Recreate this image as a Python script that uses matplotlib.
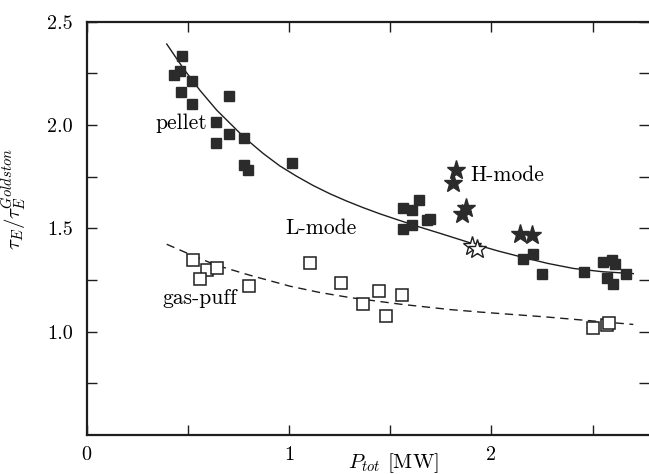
import matplotlib
matplotlib.use('Agg')
import matplotlib.pyplot as plt

plt.rcParams['font.family'] = ['cmr10', 'DejaVu Serif']
plt.rcParams['mathtext.fontset'] = 'cm'
plt.rcParams['axes.formatter.use_mathtext'] = True

# ---- data ----
pellet_x = [0.473, 0.461, 0.432, 0.522, 0.466, 0.522, 0.704, 0.638, 0.704, 0.638,
            0.779, 0.779, 0.799, 1.013,
            1.644, 1.565, 1.609, 1.565, 1.606, 1.680, 1.697,
            2.158, 2.207, 2.251, 2.459, 2.553, 2.594, 2.611, 2.570, 2.602, 2.664]
pellet_y = [2.335, 2.263, 2.242, 2.211, 2.161, 2.101, 2.141, 2.013, 1.959, 1.911,
            1.935, 1.806, 1.782, 1.814,
            1.636, 1.599, 1.588, 1.496, 1.515, 1.539, 1.543,
            1.350, 1.378, 1.278, 1.289, 1.337, 1.349, 1.329, 1.262, 1.229, 1.278]

gas_x = [0.527, 0.593, 0.643, 0.560, 0.802, 1.104, 1.255, 1.367, 1.446, 1.478,
         1.557, 2.503, 2.570, 2.581]
gas_y = [1.349, 1.300, 1.308, 1.257, 1.221, 1.332, 1.235, 1.132, 1.195, 1.074,
         1.176, 1.019, 1.030, 1.042]

hmode_x = [1.825, 1.809, 1.874, 1.853, 2.141, 2.202]
hmode_y = [1.782, 1.721, 1.600, 1.568, 1.471, 1.466]

hopen_x = [1.903, 1.927]
hopen_y = [1.415, 1.399]

fit_pellet_x = [0.396, 0.478, 0.560, 0.643, 0.709, 0.779, 0.873, 0.955, 1.038, 1.120,
                1.203, 1.285, 1.367, 1.450, 1.532, 1.640, 1.746, 1.911, 2.035, 2.158,
                2.280, 2.405, 2.550, 2.701]
fit_pellet_y = [2.392, 2.274, 2.168, 2.072, 2.008, 1.940, 1.862, 1.802, 1.752, 1.707,
                1.667, 1.632, 1.600, 1.570, 1.543, 1.508, 1.476, 1.425, 1.390, 1.359,
                1.330, 1.306, 1.290, 1.281]

fit_gas_x = [0.396, 0.520, 0.643, 0.807, 1.005, 1.150, 1.301, 1.550, 1.795, 1.942,
             2.273, 2.701]
fit_gas_y = [1.423, 1.370, 1.321, 1.273, 1.220, 1.190, 1.165, 1.133, 1.107, 1.095,
             1.071, 1.035]

xticks_major = [0, 1, 2]
xticks_minor = [0.5, 1.5, 2.5]
yticks_major = [1.0, 1.5, 2.0, 2.5]
yticks_minor = [0.75, 1.25, 1.75, 2.25]
ytick_labels = ['1.0', '1.5', '2.0', '2.5']

# ---- figure ----
fig = plt.figure(figsize=(6.49, 4.74), dpi=100)
ax = fig.add_axes([0.1334, 0.0823, 0.8666, 0.8719])
ax.set_xlim(0, 2.7787)
ax.set_ylim(0.5, 2.5)

ink = '#1e1e1e'
ax.plot(fit_pellet_x, fit_pellet_y, '-', color=ink, lw=1.0)
ax.plot(fit_gas_x, fit_gas_y, '--', color=ink, lw=1.0, dashes=(6, 4))

ax.plot(pellet_x, pellet_y, 's', ms=7.2, mfc='#2b2b2b', mec='#2b2b2b', ls='none')
ax.plot(gas_x, gas_y, 's', ms=8.0, mfc='white', mec=ink, mew=1.1, ls='none')
ax.plot(hmode_x, hmode_y, '*', ms=14, mfc='#2b2b2b', mec='#2b2b2b', ls='none')
ax.plot(hopen_x, hopen_y, '*', ms=14, mfc='white', mec=ink, mew=1.0, ls='none')

tfs = 15.5
ax.text(0.338, 2.008, 'pellet', fontsize=tfs, va='center', ha='left')
ax.text(1.898, 1.757, 'H-mode', fontsize=tfs, va='center', ha='left')
ax.text(0.980, 1.499, 'L-mode', fontsize=tfs, va='center', ha='left')
ax.text(0.376, 1.160, 'gas-puff', fontsize=tfs, va='center', ha='left')

ax.set_xticks(xticks_major)
ax.set_xticks(xticks_minor, minor=True)
ax.set_xticklabels([str(v) for v in xticks_major])
ax.set_yticks(yticks_major)
ax.set_yticks(yticks_minor, minor=True)
ax.set_yticklabels(ytick_labels)

ax.tick_params(axis='both', which='both', direction='in', length=7, width=1.0,
               labelsize=14.5, top=True, color=ink)
ax.tick_params(axis='x', which='both', pad=8)
ax.tick_params(axis='y', which='both', pad=10, right=True)
# make right-side ticks faint
for tl in ax.yaxis.get_majorticklines()[1::2] + ax.yaxis.get_minorticklines()[1::2]:
    tl.set_color('#c8c8c8')

for side in ['left', 'bottom', 'top']:
    ax.spines[side].set_linewidth(1.6)
    ax.spines[side].set_color(ink)
ax.spines['right'].set_visible(False)

ax.set_xlabel('$P_{tot}$ [MW]', fontsize=15)
ax.xaxis.set_label_coords(0.545, -0.040)
ax.set_ylabel(r'$\tau_E/\tau_E^{Goldston}$', fontsize=15)
ax.yaxis.set_label_coords(-0.104, 0.571)

fig.savefig('out.png', dpi=100)
